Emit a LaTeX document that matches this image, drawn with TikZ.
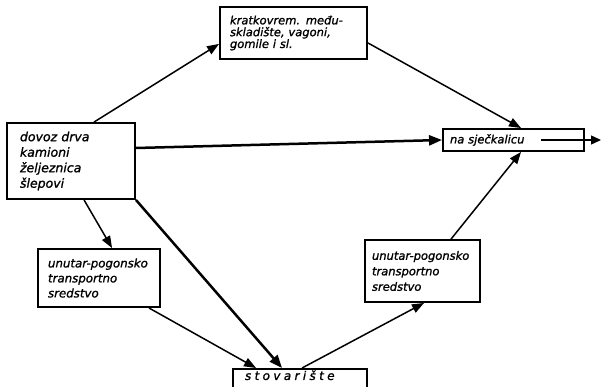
\documentclass[tikz,border=0pt]{standalone}
\usepackage{fontspec}
\setmainfont{DejaVu Sans}
\usetikzlibrary{arrows.meta}
\newcommand{\hw}{\itshape\addfontfeature{FakeBold=1.2}}
\begin{document}
\begin{tikzpicture}[x=1pt,y=1pt,
  box/.style={draw, line width=1.9pt, rectangle, align=left, inner ysep=2pt, anchor=center},
  con/.style={line width=1.5pt, -{Triangle[length=12pt,width=9pt]}},
  thk/.style={line width=2.5pt, -{Triangle[length=13pt,width=10pt]}},
  outarr/.style={line width=1.3pt, -{Triangle[length=10pt,width=9pt]}},
]
\useasboundingbox (0,0) rectangle (602,386);
\node[box, text width=102pt, inner xsep=13pt, minimum height=76pt,
      font={\fontsize{12.5}{15.5}\selectfont\hw}] (L) at (71,225)
      {dovoz drva\\kamioni\\željeznica\\šlepovi};
\node[box, text width=127pt, inner xsep=10pt, minimum height=52pt,
      font={\fontsize{11.5}{11.8}\selectfont\hw}] (T) at (293.5,353)
      {kratkovrem. među-\\skladište, vagoni,\\gomile i sl.};
\node[box, text width=127pt, inner xsep=7pt, minimum height=22pt,
      font={\fontsize{11.5}{13}\selectfont\hw}] (S) at (513.5,246)
      {na sječkalicu};
\node[box, text width=102pt, inner xsep=10pt, minimum height=58pt,
      font={\fontsize{11.8}{15}\selectfont\hw}] (LL) at (99,108)
      {unutar-pogonsko\\transportno\\sredstvo};
\node[box, text width=101pt, inner xsep=7pt, minimum height=62pt,
      font={\fontsize{11.5}{15.5}\selectfont\hw}] (LR) at (422.5,115)
      {unutar-pogonsko\\transportno\\sredstvo};
\begin{scope}
  \clip (0,0) rectangle (602,386);
  \node[box, anchor=north, text width=110pt, inner xsep=12pt, inner ysep=3pt,
        text height=8pt, text depth=12pt,
        font={\fontsize{12}{13}\selectfont\hw\addfontfeature{LetterSpace=28}}] (St) at (300,18)
        {stovarište};
\end{scope}
\draw[con] ([xshift=88pt]L.north west) -- ([yshift=16pt]T.south west);
\draw[con] ([yshift=17pt]T.south east) -- ([xshift=79pt]S.north west);
\draw[thk] ([yshift=13pt]L.east) -- (S.west);
\draw[con] ([xshift=78pt]L.south west) -- ([xshift=75pt]LL.north west);
\draw[thk] (L.south east) -- ([xshift=50pt]St.north west);
\draw[con] ([xshift=-12pt]LL.south east) -- ([xshift=24pt]St.north west);
\draw[con] ([xshift=70pt]St.north west) -- ([xshift=60pt]LR.south west);
\draw[con] ([xshift=87pt]LR.north west) -- ([xshift=79pt]S.south west);
\coordinate (out) at (601,246);
\draw[outarr] ([xshift=-44pt]S.east) -- (out);
\end{tikzpicture}
\end{document}
